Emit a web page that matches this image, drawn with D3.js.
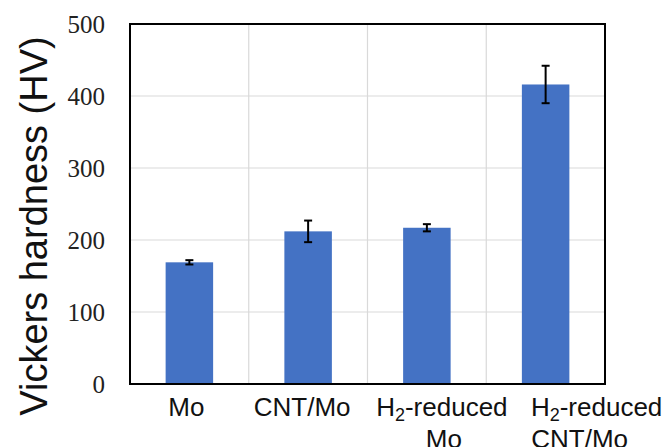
<!DOCTYPE html>
<html>
<head>
<meta charset="utf-8">
<script src="https://cdn.jsdelivr.net/npm/d3@7"></script>
<style>
  body { margin: 0; background: #fff; }
</style>
</head>
<body>
<div id="chart"></div>
<script>
/* data */
var categories = ["Mo", "CNT/Mo", "H2-reduced Mo", "H2-reduced CNT/Mo"];
var hardness = [169, 212, 217, 416];
var errors = [3, 15, 5, 26];
var yTicks = [0, 100, 200, 300, 400, 500];
/* label lines: [text, subscript, rest] */
var labelLines = [
  [["Mo"]],
  [["CNT/Mo"]],
  [["H", "2", "-reduced"], ["Mo"]],
  [["H", "2", "-reduced"], ["CNT/Mo"]]
];
/* the original labels sit a bit off their band centres */
var labelShift = [[-3], [-6], [15, 17], [51, 34]];

var width = 670, height = 447;
var margin = {top: 24, right: 65, bottom: 63, left: 130};
var innerW = width - margin.left - margin.right,
    innerH = height - margin.top - margin.bottom;

var svg = d3.select("#chart").append("svg")
    .attr("width", width).attr("height", height);

var x = d3.scaleBand().domain(categories).range([0, innerW]).padding(0);
var y = d3.scaleLinear().domain([0, 500]).range([innerH, 0]);

var g = svg.append("g").attr("transform", "translate(" + margin.left + "," + margin.top + ")");

/* horizontal gridlines */
g.append("g").selectAll("line")
  .data(yTicks.slice(1))
  .enter().append("line")
    .attr("x1", 0).attr("x2", innerW)
    .attr("y1", function(d) { return y(d); })
    .attr("y2", function(d) { return y(d); })
    .attr("stroke", "#d9d9d9").attr("stroke-width", 1.2);

/* vertical gridlines between categories */
g.append("g").selectAll("line")
  .data(categories.slice(1))
  .enter().append("line")
    .attr("x1", function(d) { return x(d); })
    .attr("x2", function(d) { return x(d); })
    .attr("y1", 0).attr("y2", innerH)
    .attr("stroke", "#d9d9d9").attr("stroke-width", 1.2);

/* bars */
var barW = x.bandwidth() * 0.4;
g.append("g").selectAll("rect")
  .data(categories)
  .enter().append("rect")
    .attr("x", function(d) { return x(d) + (x.bandwidth() - barW) / 2; })
    .attr("width", barW)
    .attr("y", function(d, i) { return y(hardness[i]); })
    .attr("height", function(d, i) { return innerH - y(hardness[i]); })
    .attr("fill", "#4472c4");

/* error bars */
var eb = g.append("g").attr("stroke", "#000").attr("stroke-width", 2);
categories.forEach(function(c, i) {
  var cx = x(c) + x.bandwidth() / 2;
  var hi = y(hardness[i] + errors[i]), lo = y(hardness[i] - errors[i]);
  eb.append("line").attr("x1", cx).attr("x2", cx).attr("y1", hi).attr("y2", lo);
  eb.append("line").attr("x1", cx - 4).attr("x2", cx + 4).attr("y1", hi).attr("y2", hi);
  eb.append("line").attr("x1", cx - 4).attr("x2", cx + 4).attr("y1", lo).attr("y2", lo);
});

/* frame */
g.append("rect")
    .attr("width", innerW).attr("height", innerH)
    .attr("fill", "none").attr("stroke", "#000").attr("stroke-width", 2);

/* y axis tick labels */
var yAxis = g.append("g")
    .call(d3.axisLeft(y).tickValues(yTicks).tickSize(0).tickPadding(25));
yAxis.select(".domain").remove();
yAxis.selectAll("text")
    .attr("font-family", "'Liberation Serif', 'Times New Roman', serif")
    .attr("font-size", 25)
    .attr("fill", "#222");

/* x labels */
var lab = g.append("g")
    .attr("font-family", "'Liberation Sans', Arial, sans-serif")
    .attr("font-size", 26)
    .attr("fill", "#111")
    .attr("text-anchor", "middle");
categories.forEach(function(c, i) {
  var cx = x(c) + x.bandwidth() / 2;
  labelLines[i].forEach(function(parts, j) {
    var t = lab.append("text")
        .attr("x", cx + labelShift[i][j])
        .attr("y", innerH + 32 + j * 32);
    t.append("tspan").text(parts[0]);
    if (parts.length > 1) {
      t.append("tspan").attr("font-size", 18).attr("dy", 5).text(parts[1]);
      t.append("tspan").attr("dy", -5).text(parts[2]);
    }
  });
});

/* y title */
svg.append("text")
    .attr("transform", "translate(47," + (margin.top + innerH / 2 + 22) + ") rotate(-90)")
    .attr("text-anchor", "middle")
    .attr("font-family", "'Liberation Sans', Arial, sans-serif")
    .attr("font-size", 38)
    .attr("fill", "#111")
    .text("Vickers hardness (HV)");
</script>
</body>
</html>
